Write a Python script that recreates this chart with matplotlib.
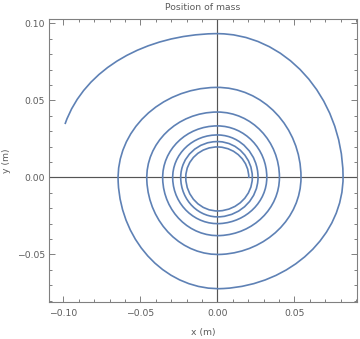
import numpy as np
import matplotlib
matplotlib.use('Agg')
import matplotlib.pyplot as plt
from matplotlib.path import Path
from matplotlib.patches import PathPatch
from matplotlib.ticker import MultipleLocator

# turning points of the spiral, in order (clockwise)
# start point, then top / right / bottom / left extremes of each turn, then end point
spiral_x = [-0.0989, -0.002, 0.0816, 0.004, -0.0644,
            -0.001, 0.0543, 0.003, -0.0458,
            0.000, 0.0403, 0.002, -0.0355,
            0.000, 0.0321, 0.002, -0.0290,
            0.001, 0.0264, 0.002, -0.0238,
            0.001, 0.0227, 0.001, -0.0205,
            0.001, 0.0204]
spiral_y = [0.0346, 0.0933, 0.001, -0.0722, -0.003,
            0.0584, 0.000, -0.0500, -0.002,
            0.0424, 0.000, -0.0378, -0.001,
            0.0334, 0.000, -0.0300, -0.001,
            0.0275, 0.000, -0.0256, 0.000,
            0.0232, 0.000, -0.0218, 0.000,
            0.0197, -0.0005]

xticks = [-0.10, -0.05, 0.00, 0.05]
yticks = [-0.05, 0.00, 0.05, 0.10]

line_col = '#5E81B5'
txt_col = '#5c5c5c'
frame_col = '#808080'

fig = plt.figure(figsize=(3.6, 3.39), dpi=100)
ax = fig.add_axes([0.137, 0.108, 0.854, 0.8345])

# smooth curve through the turning points (cubic bezier pieces, tangent
# perpendicular to the radius at each turning point)
verts = [(spiral_x[0], spiral_y[0])]
codes = [Path.MOVETO]
for i in range(len(spiral_x) - 1):
    ax_, ay_ = spiral_x[i], spiral_y[i]
    bx_, by_ = spiral_x[i + 1], spiral_y[i + 1]
    ta = np.arctan2(ay_, ax_)
    tb = np.arctan2(by_, bx_)
    span = (ta - tb) % (2 * np.pi)
    h = 4.0 / 3.0 * np.tan(span / 4)
    ra = np.hypot(ax_, ay_)
    rb = np.hypot(bx_, by_)
    p1 = (ax_ + h * rb * np.sin(ta), ay_ - h * rb * np.cos(ta))
    p2 = (bx_ - h * ra * np.sin(tb), by_ + h * ra * np.cos(tb))
    verts += [p1, p2, (bx_, by_)]
    codes += [Path.CURVE4] * 3
ax.add_patch(PathPatch(Path(verts, codes), fill=False, edgecolor=line_col,
                       lw=1.2, zorder=3))

ax.axhline(0, color='#555555', lw=0.85, zorder=2)
ax.axvline(0, color='#555555', lw=0.85, zorder=2)

ax.set_xlim(-0.1091, 0.0905)
ax.set_ylim(-0.0812, 0.1025)

ax.set_xticks(xticks)
ax.set_yticks(yticks)
ax.set_xticklabels(['%.2f' % v if v >= 0 else '\u2212%.2f' % -v for v in xticks])
ax.set_yticklabels(['%.2f' % v if v >= 0 else '\u2212%.2f' % -v for v in yticks])
ax.xaxis.set_minor_locator(MultipleLocator(0.01))
ax.yaxis.set_minor_locator(MultipleLocator(0.01))
ax.tick_params(which='both', direction='in', top=True, right=True,
               color=frame_col, width=0.7)
ax.tick_params(which='major', length=4.5, labelsize=6.7, labelcolor=txt_col)
ax.tick_params(which='minor', length=2.5)
ax.tick_params(axis='x', pad=4.5)
ax.tick_params(axis='y', pad=3)
for s in ax.spines.values():
    s.set_color(frame_col)
    s.set_linewidth(0.8)

ax.set_title('Position of mass', fontsize=6.7, color=txt_col, pad=7)
ax.set_xlabel('x (m)', fontsize=6.7, color=txt_col, labelpad=7.5)
ax.set_ylabel('y (m)', fontsize=6.7, color=txt_col, labelpad=4.5)

fig.savefig('out.png', dpi=100)
